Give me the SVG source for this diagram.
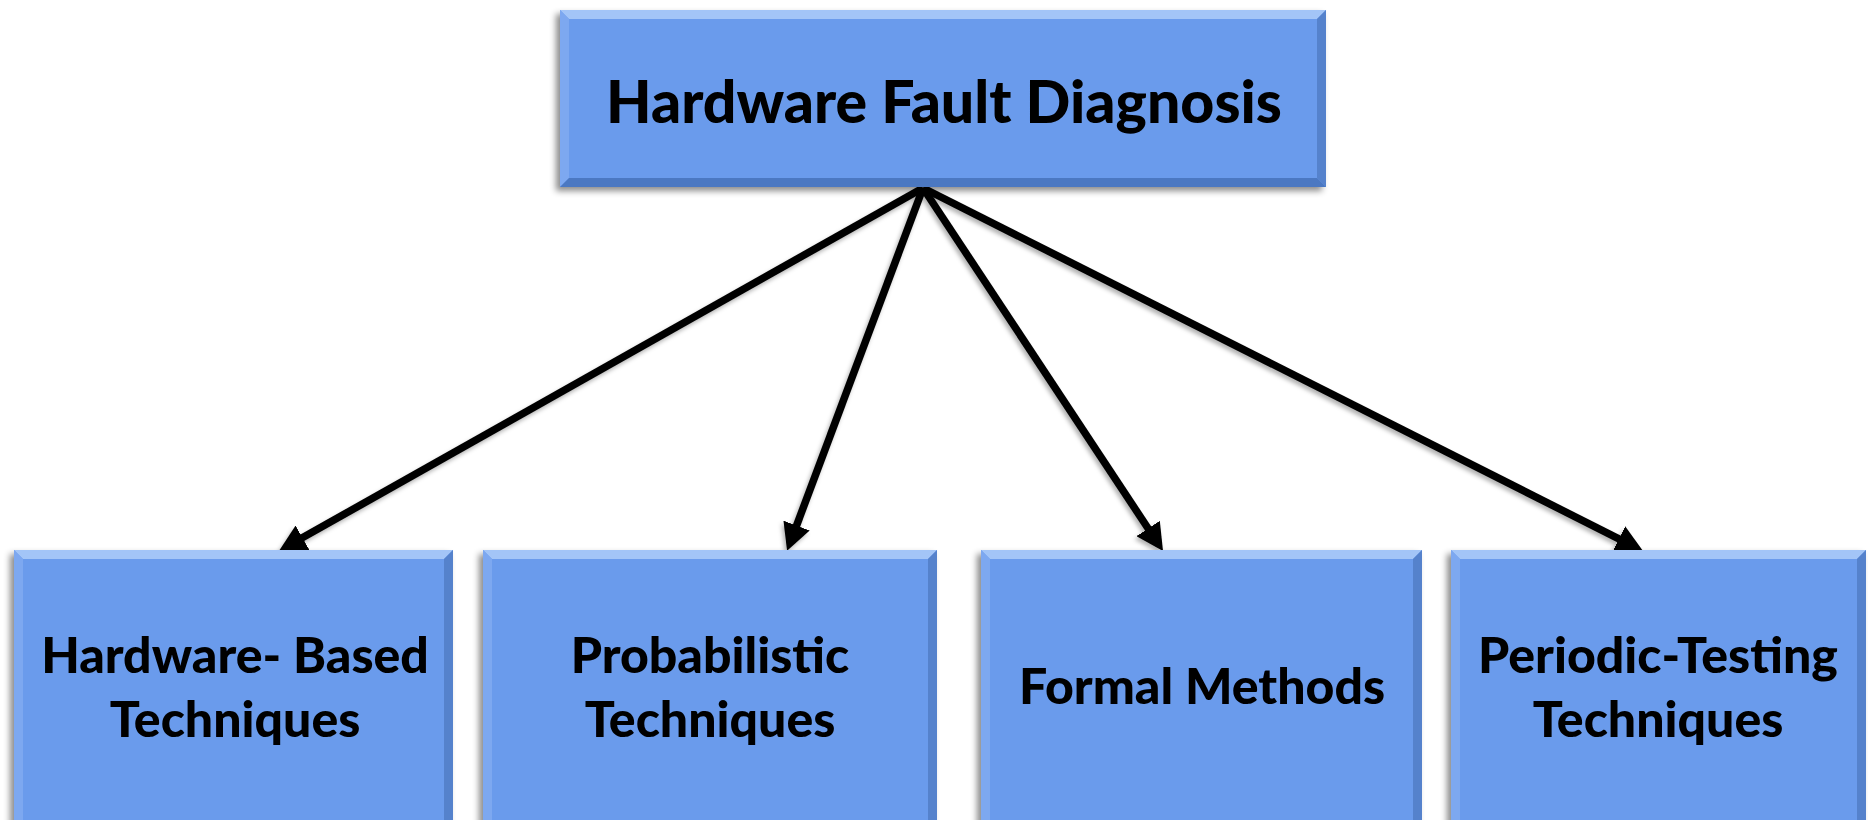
<svg xmlns="http://www.w3.org/2000/svg" width="1868" height="820" viewBox="0 0 1868 820">
<style>
.face{fill:#6A9BEC}
.bt{fill:#A3C5F7}
.bl{fill:#7DA8F0}
.br{fill:#5582CC}
.bb{fill:#4C78C2}
.lbl{font-family:Lato,"Open Sans","Liberation Sans",sans-serif;font-weight:900;fill:#000;text-anchor:middle}
.conn{stroke:#000;stroke-width:7.5;fill:none;marker-end:url(#ah)}
</style>
<defs>
<filter id="sh" x="-10%" y="-10%" width="120%" height="130%">
<feDropShadow dx="-4" dy="4" stdDeviation="3" flood-color="#000" flood-opacity="0.45"/>
</filter>
<filter id="ls" x="-10%" y="-10%" width="120%" height="120%">
<feDropShadow dx="-2" dy="3" stdDeviation="2" flood-color="#000" flood-opacity="0.3"/>
</filter>
<marker id="ah" markerUnits="userSpaceOnUse" markerWidth="28" markerHeight="28" viewBox="0 0 28 28" refX="15" refY="14" orient="auto">
<path d="M0,0 L27,14 L0,28 Z" fill="#000"/>
</marker>
</defs>
<rect width="1868" height="820" fill="#fff"/>

<g id="connectors" filter="url(#ls)">
<line class="conn" x1="923" y1="188" x2="289.4" y2="545.1"/>
<line class="conn" x1="923" y1="188" x2="791.3" y2="539.6"/>
<line class="conn" x1="923" y1="188" x2="1156.4" y2="541"/>
<line class="conn" x1="923" y1="188" x2="1632.3" y2="545.6"/>
</g>

<g id="root" filter="url(#sh)">
<rect class="face" x="560" y="10" width="766" height="177"/>
<polygon class="bt" points="560,10 1326,10 1317,19 569,19"/>
<polygon class="bl" points="560,10 569,19 569,178 560,187"/>
<polygon class="br" points="1326,10 1326,187 1317,178 1317,19"/>
<polygon class="bb" points="560,187 1326,187 1317,178 569,178"/>
<text class="lbl" x="944" y="123" font-size="59">Hardware Fault Diagnosis</text>
</g>

<g id="hw" filter="url(#sh)">
<rect class="face" x="14" y="550" width="439" height="280"/>
<polygon class="bt" points="14,550 453,550 444,559 23,559"/>
<polygon class="bl" points="14,550 23,559 23,830 14,830"/>
<polygon class="br" points="453,550 453,830 444,830 444,559"/>
<text class="lbl" x="235" y="673" font-size="50">Hardware- Based</text>
<text class="lbl" x="235" y="737" font-size="50">Techniques</text>
</g>

<g id="prob" filter="url(#sh)">
<rect class="face" x="483" y="550" width="454" height="280"/>
<polygon class="bt" points="483,550 937,550 928,559 492,559"/>
<polygon class="bl" points="483,550 492,559 492,830 483,830"/>
<polygon class="br" points="937,550 937,830 928,830 928,559"/>
<text class="lbl" x="710" y="673" font-size="50">Probabilistic</text>
<text class="lbl" x="710" y="737" font-size="50">Techniques</text>
</g>

<g id="formal" filter="url(#sh)">
<rect class="face" x="981" y="550" width="441" height="280"/>
<polygon class="bt" points="981,550 1422,550 1413,559 990,559"/>
<polygon class="bl" points="981,550 990,559 990,830 981,830"/>
<polygon class="br" points="1422,550 1422,830 1413,830 1413,559"/>
<text class="lbl" x="1202" y="704" font-size="50">Formal Methods</text>
</g>

<g id="periodic" filter="url(#sh)">
<rect class="face" x="1451" y="550" width="415" height="280"/>
<polygon class="bt" points="1451,550 1866,550 1857,559 1460,559"/>
<polygon class="bl" points="1451,550 1460,559 1460,830 1451,830"/>
<polygon class="br" points="1866,550 1866,830 1857,830 1857,559"/>
<text class="lbl" x="1658" y="673" font-size="50">Periodic-Testing</text>
<text class="lbl" x="1658" y="737" font-size="50">Techniques</text>
</g>
</svg>
